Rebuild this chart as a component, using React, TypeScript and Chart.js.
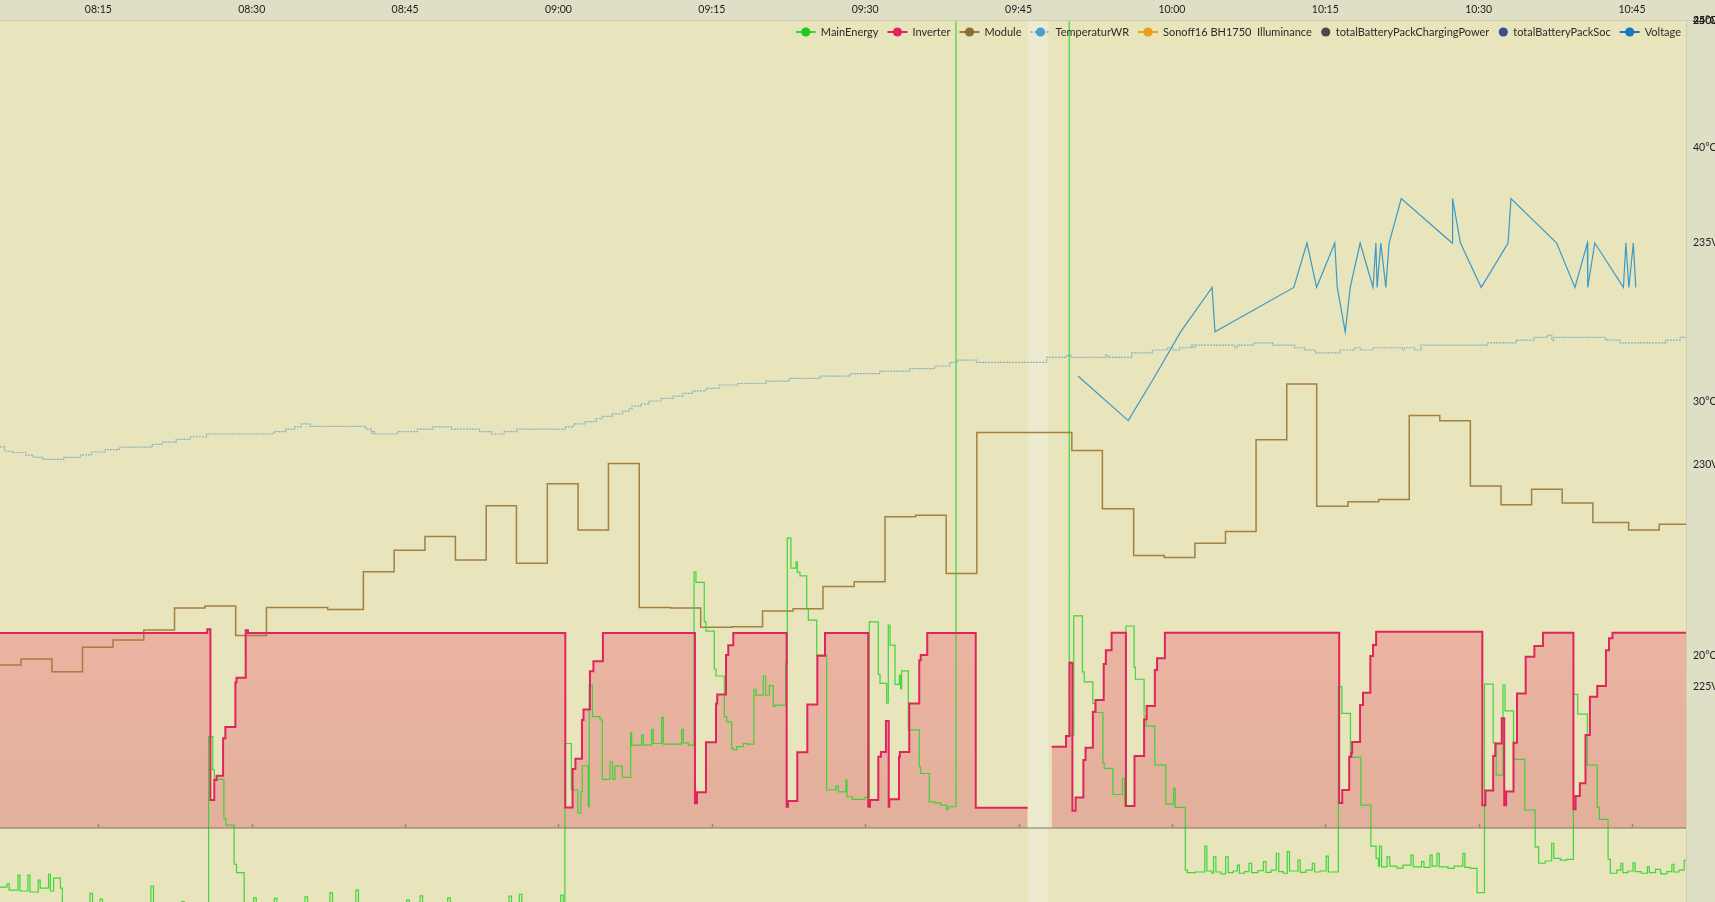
import React, { useEffect, useRef } from 'react';
import { Chart, registerables } from 'chart.js';

Chart.register(...registerables);

// ---------- axes (time in minutes after 08:00) ----------
const xTickMinutes = [15, 30, 45, 60, 75, 90, 105, 120, 135, 150, 165];
const xTickLabels = ['08:15', '08:30', '08:45', '09:00', '09:15', '09:30', '09:45', '10:00', '10:15', '10:30', '10:45'];
const tempTicks = [20, 30, 40, 45];
const voltTicks = [225, 230, 235, 240];
const powerTopTicks = [2500];
const gapBand = [105.9, 107.9];

const seriesLabels = [
  'MainEnergy',
  'Inverter',
  'Module',
  'TemperaturWR',
  'Sonoff16 BH1750  Illuminance',
  'totalBatteryPackChargingPower',
  'totalBatteryPackSoc',
  'Voltage',
];

// ---------- data: [minute after 08:00, value] ----------
const mainEnergy: [number, number][] = [
  [5.38, -183], [6.06, -173], [6.28, -192], [7.14, -146], [7.33, -195], [8.11, -146], [8.31, -198],
  [9.12, -161], [9.31, -186], [10.13, -143], [10.31, -195], [10.62, -155], [11.29, -186], [11.48, -260],
  [14.18, -202], [14.43, -260], [15.16, -220], [15.41, -260], [20.14, -180], [20.39, -260], [23.16, -228], [23.41, -260],
  [25.78, 283], [26.19, 180], [26.34, 151], [27.28, 30], [27.46, 9], [28.28, -112], [28.51, -138], [29.26, -260],
  [30.19, -216], [30.44, -260], [32.21, -218], [32.46, -260], [35.21, -213], [35.46, -260], [37.65, -200], [37.9, -260],
  [40.19, -192], [40.44, -260], [45.16, -223], [45.41, -260], [46.46, -210], [46.71, -260], [49.17, -216], [49.42, -260],
  [55.16, -211], [55.41, -260], [56.17, -205], [56.42, -260], [60.22, -208], [60.47, -260],
  [60.63, 262], [61.26, 118], [61.9, 46], [62.19, 112], [62.33, 193], [62.91, 66], [63.01, 443], [63.32, 345],
  [64.06, 335], [64.29, 151], [65.04, 205], [65.3, 151], [65.53, 192], [66.24, 157], [67.06, 295], [67.16, 257],
  [68.14, 288], [68.3, 257], [69.12, 306], [69.27, 262], [70.1, 343], [70.25, 260], [72.05, 306], [72.21, 264], [72.7, 257],
  [73.26, 794], [73.45, 761], [74.26, 639], [74.43, 610], [75.24, 492], [75.41, 471], [76.22, 345], [76.45, 329],
  [76.94, 247], [77.1, 242], [77.43, 252], [78.08, 262], [78.41, 260], [79.12, 430], [79.32, 412], [80.03, 471],
  [80.27, 412], [80.62, 441], [81.01, 376], [81.18, 381], [82.22, 510], [82.38, 898], [82.74, 805], [83.23, 824],
  [83.36, 793], [83.62, 781], [84.28, 678], [84.44, 644], [85.26, 536], [86.23, 118], [87.14, 130], [87.37, 112],
  [88.12, 149], [88.22, 97], [88.74, 89], [89.98, 95],
  [90.4, 639], [91.28, 476], [91.45, 448], [92.1, 388], [92.26, 629], [92.43, 567], [92.92, 445], [93.34, 474],
  [93.47, 431], [93.57, 487], [94.22, 304], [95.29, 190], [95.43, 169], [96.27, 81], [96.83, 78], [97.39, 71],
  [97.97, 58], [98.13, 66], [98.88, 3500],
  [109.96, 288], [110.4, 657], [111.25, 484], [111.42, 453], [112.27, 386], [112.49, 358], [113.25, 200], [113.38, 185],
  [114.23, 104], [115.16, 154], [115.37, 68], [115.5, 626], [116.3, 498], [116.43, 461], [117.28, 345], [117.48, 316],
  [118.33, 195], [119.4, 74], [120.16, 123], [120.33, 64],
  [121.31, -130], [121.5, -138], [122.3, -136], [123.22, -56], [123.42, -133], [123.9, -140], [124.07, -89], [124.3, -136],
  [124.8, -142], [125.25, -89], [125.5, -138], [126.0, -133], [126.4, -115], [126.6, -140], [127.1, -135], [127.54, -109],
  [127.8, -138], [128.4, -132], [128.94, -104], [129.2, -137], [129.7, -130], [130.21, -78], [130.45, -135], [130.9, -140],
  [131.28, -73], [131.5, -133], [132.33, -99], [132.55, -137], [133.1, -130], [133.73, -109], [133.95, -136], [134.5, -133],
  [135.09, -87], [135.3, -136], [135.9, -136],
  [136.28, 438], [136.63, 355], [137.46, 219], [138.48, 71], [139.46, -56], [139.97, -94], [140.2, -118], [140.3, -56],
  [140.5, -120], [141.04, -89], [141.3, -118], [142.0, -124], [142.6, -115], [143.38, -84], [143.6, -120], [144.42, -104],
  [144.65, -122], [145.24, -84], [145.45, -118], [145.93, -78], [146.15, -120], [147.0, -125], [147.6, -118], [148.45, -78],
  [148.65, -122], [149.2, -125], [149.84, -200],
  [150.57, 446], [151.42, 264], [151.72, 164], [152.38, 443], [152.58, 363], [153.41, 213], [154.51, 56], [155.53, -58],
  [155.87, -109], [156.5, -102], [157.14, -47], [157.35, -94], [158.0, -99], [158.6, -97],
  [159.27, 414], [159.69, 353], [160.63, 195], [161.6, 64], [161.81, 27], [162.66, -97], [162.88, -140], [163.5, -130],
  [163.9, -109], [164.1, -138], [164.6, -133], [165.1, -108], [165.3, -135], [165.9, -140], [166.5, -120], [166.7, -138],
  [167.3, -128], [167.8, -142], [168.4, -135], [168.9, -112], [169.1, -136], [169.6, -130], [170.1, -100], [170.3, -100],
];

const inverter: [number, number | null][] = [
  [5.38, 604], [25.65, 616], [25.96, 87], [26.34, 149], [26.56, 162], [27.2, 278], [27.42, 313], [28.4, 451],
  [28.51, 466], [29.41, 613], [29.63, 604],
  [60.67, 64], [61.38, 183], [61.66, 215], [62.3, 335], [62.45, 367], [63.08, 486], [63.42, 517], [64.35, 604],
  [73.35, 77], [73.55, 111], [74.43, 266], [75.41, 386], [75.53, 414], [76.39, 536], [76.61, 566], [77.1, 604],
  [82.32, 66], [82.45, 84], [83.36, 235], [84.34, 383], [85.32, 534], [86.07, 604],
  [90.3, 66], [90.47, 87], [91.28, 221], [91.54, 236], [92.03, 332], [92.3, 66], [92.36, 89], [93.31, 221],
  [93.4, 236], [94.31, 386], [95.29, 520], [95.43, 536], [96.07, 604],
  [100.81, 63], [105.89, 63], [105.9, null],
  [108.24, 252], [109.64, 285], [109.98, 512], [110.27, 54], [110.58, 95], [111.34, 211], [111.55, 249], [112.27, 360],
  [112.53, 397], [113.33, 508], [113.54, 551], [114.1, 605],
  [115.5, 68], [116.34, 223], [117.28, 337], [117.53, 378], [118.33, 490], [118.55, 526], [119.31, 605],
  [136.36, 78], [136.66, 118], [137.34, 221], [137.55, 233], [137.63, 267], [138.4, 381], [138.69, 419], [139.41, 533],
  [139.67, 567], [139.97, 608],
  [150.36, 71], [150.66, 116], [151.42, 223], [151.63, 262], [152.26, 340], [152.5, 71], [152.69, 113], [153.41, 264],
  [153.75, 417], [154.6, 531], [155.45, 564], [156.29, 605],
  [159.27, 58], [159.48, 99], [159.9, 139], [160.45, 288], [160.88, 407], [161.6, 440], [162.45, 551], [162.75, 588],
  [163.09, 605], [170.3, 605],
];

const moduleTemp: [number, number][] = [
  [5.38, 19.61], [7.43, 19.85], [10.46, 19.35], [13.45, 20.31], [16.43, 20.6], [19.44, 20.99], [22.45, 21.86],
  [25.43, 21.94], [28.43, 20.78], [31.44, 21.88], [37.43, 21.8], [40.92, 23.29], [43.93, 24.14], [46.94, 24.68],
  [49.92, 23.75], [52.93, 25.89], [55.89, 23.62], [58.91, 26.76], [61.92, 24.93], [64.89, 27.56], [67.9, 21.88],
  [70.96, 21.86], [73.91, 21.1], [76.96, 21.12], [79.96, 21.74], [82.95, 21.83], [85.87, 22.71], [88.93, 22.89],
  [91.94, 25.46], [94.93, 25.52], [97.92, 23.22], [100.92, 28.78], [110.21, 28.07], [113.2, 25.77], [116.26, 23.93],
  [119.25, 23.85], [122.25, 24.41], [125.24, 24.88], [128.23, 28.49], [131.23, 30.69], [134.16, 25.87], [137.22, 26.05],
  [140.22, 26.14], [143.21, 29.45], [146.2, 29.24], [149.19, 26.67], [152.19, 25.93], [155.18, 26.54], [158.17, 26.0],
  [161.17, 25.23], [164.67, 24.93], [167.66, 25.16], [170.3, 25.16],
];

const temperaturWR: [number, number][] = [
  [5.38, 28.21], [5.82, 28.04], [6.64, 27.99], [7.92, 27.89], [8.65, 27.8], [9.61, 27.72], [11.62, 27.8], [13.28, 27.9],
  [14.33, 28.01], [15.68, 28.1], [17.03, 28.2], [20.26, 28.31], [21.22, 28.4], [22.62, 28.51], [23.96, 28.61],
  [25.59, 28.72], [32.18, 28.81], [33.32, 28.91], [34.19, 29.0], [34.85, 29.12], [35.7, 29.02], [41.17, 28.91],
  [41.7, 28.74], [41.86, 28.81], [42.05, 28.72], [44.24, 28.81], [46.2, 28.91], [47.73, 29.0], [49.52, 28.91],
  [52.28, 28.81], [53.45, 28.72], [54.67, 28.81], [55.94, 28.91], [60.64, 29.0], [61.49, 29.12], [62.59, 29.21],
  [63.67, 29.32], [64.26, 29.41], [65.24, 29.51], [66.29, 29.62], [66.9, 29.71], [67.19, 29.82], [68.03, 29.91],
  [68.85, 30.02], [70.03, 30.12], [71.2, 30.21], [72.18, 30.32], [73.16, 30.42], [74.43, 30.52], [75.7, 30.65],
  [77.56, 30.71], [80.3, 30.8], [82.55, 30.91], [85.58, 31.0], [88.52, 31.1], [91.45, 31.2], [94.38, 31.3],
  [96.83, 31.4], [98.29, 31.54], [98.98, 31.63], [100.9, 31.54], [107.75, 31.74], [109.71, 31.83], [110.13, 31.74],
  [113.55, 31.83], [113.75, 31.74], [116.07, 31.92], [118.08, 32.03], [119.55, 32.12], [120.11, 32.03], [120.77, 32.12],
  [121.87, 32.22], [122.07, 32.12], [122.27, 32.22], [126.12, 32.12], [126.4, 32.22], [127.95, 32.31], [129.85, 32.22],
  [132.0, 32.12], [133.02, 32.03], [134.02, 31.92], [136.46, 32.03], [137.88, 32.12], [138.49, 32.03], [139.71, 32.12],
  [142.54, 32.03], [142.75, 32.12], [143.75, 32.03], [144.37, 32.22], [150.86, 32.31], [153.69, 32.42], [155.44, 32.53],
  [156.73, 32.62], [157.15, 32.42], [157.34, 32.53], [162.42, 32.42], [163.84, 32.31], [168.3, 32.42], [169.72, 32.53],
  [170.3, 32.53],
];

const voltage: [number, number][] = [
  [110.84, 232], [115.73, 231], [118.34, 232], [120.85, 233], [123.93, 234], [124.21, 233], [131.92, 234],
  [133.21, 235], [134.15, 234], [135.93, 235], [136.17, 234], [136.95, 233], [137.44, 234], [138.41, 235],
  [139.67, 234], [139.95, 235], [140.07, 234], [140.43, 235], [140.92, 234], [141.24, 235], [142.43, 236],
  [147.41, 235], [147.45, 236], [148.22, 235], [150.25, 234], [152.88, 235], [153.16, 236], [157.63, 235],
  [159.42, 234], [160.63, 235], [160.67, 234], [161.36, 235], [164.16, 234], [164.4, 235], [164.69, 234],
  [165.13, 235], [165.37, 234],
];

// ---------- styling ----------
const FONT = 'Lato, "Noto Sans", "DejaVu Sans", sans-serif';
const STRIP_BG = '#dfdfc6';
const PLOT_BG = '#e8e4bb';
const BAND_BG = '#ecebcf';
const TEXT = '#1e1e1e';

const legendStyles = [
  { kind: 'line', line: '#3ad43a', dot: '#1fc91f' },
  { kind: 'line', line: '#e0245e', dot: '#e0245e' },
  { kind: 'line', line: '#9c7a3c', dot: '#8f6c2f' },
  { kind: 'dash', line: '#7fb6d2', dot: '#4a9fd0' },
  { kind: 'line', line: '#e3a21a', dot: '#e3a21a' },
  { kind: 'dot', dot: '#4a4a4a' },
  { kind: 'dot', dot: '#3b4d96' },
  { kind: 'line', line: '#1679bd', dot: '#1679bd' },
];

const toXY = (arr: [number, number | null][]) => arr.map(([x, y]) => ({ x, y }));

const backdropPlugin = {
  id: 'backdrop',
  beforeDraw(chart: any) {
    const { ctx, chartArea: a, width, height } = chart;
    const x = chart.scales.x;
    ctx.save();
    ctx.fillStyle = STRIP_BG;
    ctx.fillRect(0, 0, width, height);
    ctx.fillStyle = PLOT_BG;
    ctx.fillRect(a.left, a.top, a.right - a.left, a.bottom - a.top);
    const b0 = x.getPixelForValue(gapBand[0]);
    const b1 = x.getPixelForValue(gapBand[1]);
    ctx.fillStyle = BAND_BG;
    ctx.fillRect(b0, a.top, b1 - b0, a.bottom - a.top);
    ctx.strokeStyle = 'rgba(120,120,80,0.16)';
    ctx.lineWidth = 1;
    ctx.beginPath();
    ctx.moveTo(0, a.top - 0.5);
    ctx.lineTo(width, a.top - 0.5);
    ctx.moveTo(a.right + 0.5, a.top);
    ctx.lineTo(a.right + 0.5, a.bottom);
    ctx.stroke();
    ctx.restore();
  },
};

const zeroLinePlugin = {
  id: 'zeroLine',
  afterDatasetsDraw(chart: any) {
    const { ctx, chartArea: a } = chart;
    const x = chart.scales.x;
    const y0 = chart.scales.yP.getPixelForValue(0);
    ctx.save();
    ctx.strokeStyle = 'rgba(125,105,100,0.6)';
    ctx.lineWidth = 1.5;
    ctx.beginPath();
    ctx.moveTo(a.left, y0);
    ctx.lineTo(a.right, y0);
    xTickMinutes.forEach((m) => {
      const px = Math.round(x.getPixelForValue(m)) + 0.5;
      ctx.moveTo(px, y0 - 4);
      ctx.lineTo(px, y0);
    });
    ctx.stroke();
    ctx.restore();
  },
};

const sideLabelsPlugin = {
  id: 'sideLabels',
  afterDraw(chart: any) {
    const { ctx, chartArea: a } = chart;
    ctx.save();
    ctx.font = `10.5px ${FONT}`;
    ctx.fillStyle = TEXT;
    ctx.textAlign = 'left';
    ctx.textBaseline = 'middle';
    const yV = chart.scales.yV;
    voltTicks.forEach((v) => ctx.fillText(`${v}V`, a.right + 7, yV.getPixelForValue(v)));
    const yP = chart.scales.yP;
    powerTopTicks.forEach((v) => ctx.fillText(`${v}W`, a.right + 7, yP.getPixelForValue(v)));
    ctx.restore();
  },
};

const legendPlugin = {
  id: 'inlineLegend',
  afterDraw(chart: any) {
    const { ctx, chartArea: a } = chart;
    const y = a.top + 11;
    const lineW = 20;
    const dotW = 10;
    const iconGap = 5;
    const itemGap = 9;
    ctx.save();
    ctx.font = `11px ${FONT}`;
    ctx.textBaseline = 'middle';
    ctx.textAlign = 'left';
    const items = chart.data.datasets.map((ds: any, i: number) => {
      const st = legendStyles[i];
      const iw = st.kind === 'dot' ? dotW : lineW;
      const tw = ctx.measureText(ds.label).width;
      return { label: ds.label, st, iw, tw };
    });
    const total = items.reduce((s: number, it: any) => s + it.iw + iconGap + it.tw, 0) + itemGap * (items.length - 1);
    let x = a.right - 5 - total;
    items.forEach((it: any) => {
      const cx = x + it.iw / 2;
      if (it.st.kind !== 'dot') {
        ctx.strokeStyle = it.st.line;
        ctx.lineWidth = 2;
        ctx.setLineDash(it.st.kind === 'dash' ? [2, 2] : []);
        ctx.beginPath();
        ctx.moveTo(x, y);
        ctx.lineTo(x + it.iw, y);
        ctx.stroke();
        ctx.setLineDash([]);
      }
      ctx.fillStyle = it.st.dot;
      ctx.beginPath();
      ctx.arc(cx, y, 4.6, 0, Math.PI * 2);
      ctx.fill();
      ctx.fillStyle = '#2a2a2a';
      ctx.fillText(it.label, x + it.iw + iconGap, y + 0.5);
      x += it.iw + iconGap + it.tw + itemGap;
    });
    ctx.restore();
  },
};

export default function App() {
  const canvasRef = useRef<HTMLCanvasElement | null>(null);

  useEffect(() => {
    document.body.style.margin = '0';
    document.body.style.overflow = 'hidden';
    const canvas = canvasRef.current;
    if (!canvas) return;

    const chart = new Chart(canvas, {
      type: 'line',
      data: {
        datasets: [
          {
            label: seriesLabels[0],
            data: toXY(mainEnergy),
            yAxisID: 'yP',
            borderColor: 'rgba(48,214,48,0.92)',
            borderWidth: 1.2,
            stepped: true,
            pointRadius: 0,
            fill: false,
            order: 1,
          },
          {
            label: seriesLabels[1],
            data: toXY(inverter),
            yAxisID: 'yP',
            borderColor: '#e0245e',
            borderWidth: 2,
            stepped: true,
            pointRadius: 0,
            spanGaps: false,
            fill: 'origin',
            backgroundColor: (c: any) => {
              const ch = c.chart;
              if (!ch.chartArea) return 'rgba(240,60,100,0.3)';
              const yP = ch.scales.yP;
              const g = ch.ctx.createLinearGradient(0, yP.getPixelForValue(620), 0, yP.getPixelForValue(0));
              g.addColorStop(0, 'rgba(242,62,100,0.29)');
              g.addColorStop(1, 'rgba(215,70,90,0.33)');
              return g;
            },
            order: 0,
          },
          {
            label: seriesLabels[2],
            data: toXY(moduleTemp),
            yAxisID: 'yT',
            borderColor: 'rgba(160,122,58,0.95)',
            borderWidth: 1.5,
            stepped: true,
            pointRadius: 0,
            fill: false,
            order: 3,
          },
          {
            label: seriesLabels[3],
            data: toXY(temperaturWR),
            yAxisID: 'yT',
            borderColor: 'rgba(110,165,195,0.8)',
            borderWidth: 1.2,
            borderDash: [2, 1],
            stepped: true,
            pointRadius: 0,
            fill: false,
            order: 4,
          },
          { label: seriesLabels[4], data: [], yAxisID: 'yP', borderColor: '#e3a21a', pointRadius: 0 },
          { label: seriesLabels[5], data: [], yAxisID: 'yP', borderColor: '#4a4a4a', pointRadius: 0 },
          { label: seriesLabels[6], data: [], yAxisID: 'yP', borderColor: '#3b4d96', pointRadius: 0 },
          {
            label: seriesLabels[7],
            data: toXY(voltage),
            yAxisID: 'yV',
            borderColor: '#3b9ac9',
            borderWidth: 1.2,
            tension: 0,
            pointRadius: 0,
            fill: false,
            order: 2,
          },
        ],
      },
      options: {
        animation: false,
        responsive: false,
        maintainAspectRatio: false,
        devicePixelRatio: 1,
        layout: { padding: 0 },
        events: [],
        plugins: {
          legend: { display: false },
          tooltip: { enabled: false },
          filler: { drawTime: 'beforeDatasetsDraw' },
        },
        scales: {
          x: {
            type: 'linear',
            position: 'top',
            min: 5.38,
            max: 170.28,
            grid: { display: false, drawTicks: false },
            border: { display: false },
            afterBuildTicks: (s: any) => {
              s.ticks = xTickMinutes.map((v) => ({ value: v }));
            },
            afterFit: (s: any) => {
              s.height = 21;
              s.paddingLeft = 0;
              s.paddingRight = 0;
            },
            ticks: {
              autoSkip: false,
              maxRotation: 0,
              padding: 5,
              color: TEXT,
              font: { family: FONT, size: 10.5 },
              callback: (v: any) => xTickLabels[xTickMinutes.indexOf(Number(v))] ?? '',
            },
          },
          yT: {
            type: 'linear',
            position: 'right',
            min: 10.27,
            max: 45,
            grid: { display: false, drawTicks: false },
            border: { display: false },
            afterBuildTicks: (s: any) => {
              s.ticks = tempTicks.map((v) => ({ value: v }));
            },
            afterFit: (s: any) => {
              s.width = 29;
              s.paddingTop = 0;
              s.paddingBottom = 0;
            },
            ticks: {
              padding: 7,
              color: TEXT,
              font: { family: FONT, size: 10.5 },
              callback: (v: any) => `${v}°C`,
            },
          },
          yV: { type: 'linear', display: false, min: 220.16, max: 240 },
          yP: { type: 'linear', display: false, min: -229, max: 2500 },
        },
      },
      plugins: [backdropPlugin, zeroLinePlugin, sideLabelsPlugin, legendPlugin],
    } as any);

    return () => chart.destroy();
  }, []);

  return (
    <div style={{ width: 1715, height: 902, overflow: 'hidden' }}>
      <canvas ref={canvasRef} width={1715} height={902} style={{ display: 'block' }} />
    </div>
  );
}
